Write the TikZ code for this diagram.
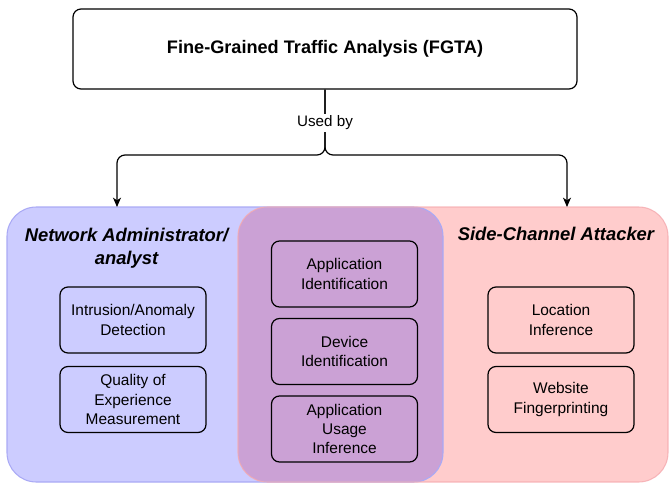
\documentclass[tikz,border=0pt]{standalone}
\usepackage{fontspec}
\setmainfont{Liberation Sans}
\usetikzlibrary{arrows.meta}
\definecolor{bluefill}{RGB}{204,204,255}
\definecolor{blueline}{RGB}{170,170,245}
\definecolor{pinkfill}{RGB}{255,204,204}
\definecolor{pinkline}{RGB}{245,170,175}
\definecolor{mixfill}{RGB}{203,161,213}
\begin{document}
\begin{tikzpicture}[x=0.75pt,y=-0.75pt,
  item/.style={draw=black, line width=0.9pt, rounded corners=6pt, align=center,
    font=\fontsize{11.6}{14.5}\selectfont, minimum width=109.5pt, minimum height=49.5pt, inner sep=0pt},
  role/.style={align=center, font=\fontsize{13.8}{17.5}\selectfont\bfseries\itshape},
  conn/.style={line width=0.9pt, rounded corners=6pt},
  tip/.style={-{Stealth[length=7pt,width=6pt,inset=2pt]}}]
\useasboundingbox (0,0) rectangle (669,483);
% regions
\fill[bluefill, rounded corners=22pt] (7,207) rectangle (443,482);
\fill[pinkfill, rounded corners=22pt] (238,207) rectangle (668,482);
\begin{scope}
  \clip[rounded corners=22pt] (7,207) rectangle (443,482);
  \fill[mixfill, rounded corners=22pt] (238,207) rectangle (668,482);
\end{scope}
\draw[blueline, line width=0.8pt, rounded corners=22pt] (7,207) rectangle (443,482);
\draw[pinkline, line width=0.8pt, rounded corners=22pt, draw opacity=0.8] (238,207) rectangle (668,482);

% top box
\node[draw=black, line width=0.9pt, rounded corners=6pt, minimum width=378pt, minimum height=60pt,
  font=\fontsize{13.6}{16}\selectfont\bfseries] (fgta) at (325,49) {Fine-Grained Traffic Analysis (FGTA)};

% role titles
\node[role] (admin) at (126.5,248) {Network Administrator/\\analyst};
\node[role] (attacker) at (556,234) {Side-Channel Attacker};

% items
\node[item] (ids) at (133,320) {Intrusion/Anomaly\\Detection};
\node[item] (qoe) at (133,399.5) {Quality of\\Experience\\Measurement};
\node[item] (appid) at (344.5,274) {Application\\Identification};
\node[item] (devid) at (344.5,351.5) {Device\\Identification};
\node[item] (usage) at (344.5,429) {Application\\Usage\\Inference};
\node[item] (loc) at (561,320) {Location\\Inference};
\node[item] (web) at (561,399.5) {Website\\Fingerprinting};

% connectors
\coordinate (split) at (325,155);
\coordinate (toadmin) at (117,207);
\coordinate (toattack) at (567,207);
\draw[conn, tip] (fgta.south) -- (split) -| (toadmin);
\draw[conn, tip] (fgta.south) -- (split) -| (toattack);
\node[fill=white, inner sep=1.5pt, font=\fontsize{11.4}{13}\selectfont] (usedby) at (325,123) {Used by};
\end{tikzpicture}
\end{document}
